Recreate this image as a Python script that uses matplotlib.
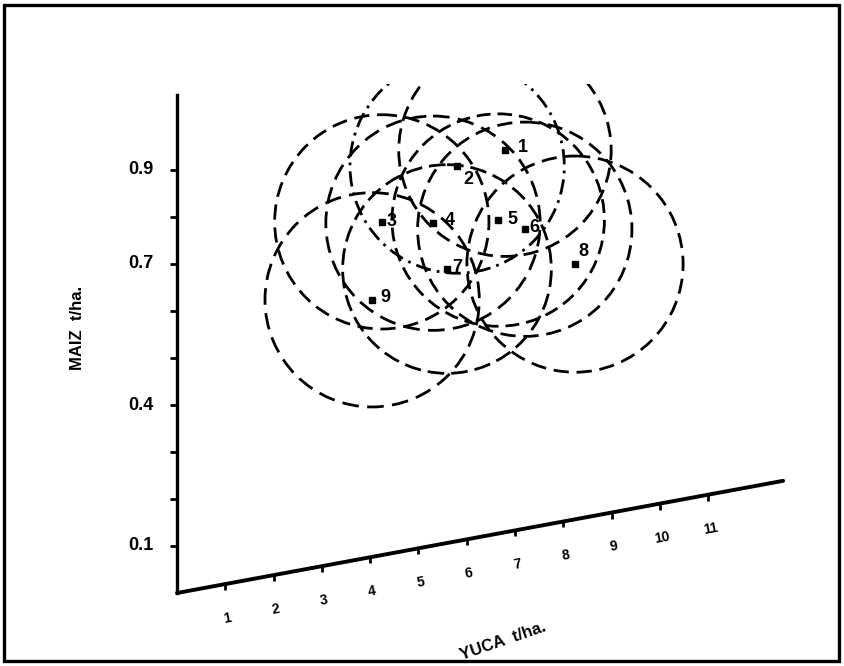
import matplotlib
matplotlib.use("Agg")
import matplotlib.pyplot as plt
import numpy as np
from matplotlib.transforms import Affine2D
from matplotlib.patches import Circle, Rectangle

# treatment means, t/ha
treat_labels = ["1", "2", "3", "4", "5", "6", "7", "8", "9"]
yuca = [6.79, 5.80, 4.24, 5.30, 6.65, 7.20, 5.59, 8.24, 4.04]
maiz = [0.813, 0.798, 0.709, 0.686, 0.667, 0.637, 0.583, 0.543, 0.547]
# radius of each circle (maiz t/ha)
radius = [0.226, 0.228, 0.228, 0.228, 0.226, 0.228, 0.222, 0.230, 0.228]

yuca_ticks = [1, 2, 3, 4, 5, 6, 7, 8, 9, 10, 11]
yuca_labels = ["1", "2", "3", "4", "5", "6", "7", "8", "9", "10", "11"]
maiz_ticks = [0.1, 0.2, 0.3, 0.4, 0.5, 0.6, 0.7, 0.8, 0.9]
maiz_labelled = [0.1, 0.4, 0.7, 0.9]
maiz_labels = ["0.1", "0.4", "0.7", "0.9"]

plt.rcParams['font.family'] = ['Liberation Sans', 'DejaVu Sans']
plt.rcParams['font.weight'] = 'bold'

fig = plt.figure(figsize=(8.45, 6.66), dpi=100)
ax = fig.add_axes([0, 0, 1, 1])
ax.set_xlim(0, 845)
ax.set_ylim(666, 0)
ax.axis('off')

# oblique axes: yuca runs up to the right, maiz straight up
skew = Affine2D.from_values(48.3, -8.94, 0, -470, 177, 593)
tr = skew + ax.transData

# frame round the whole figure
ax.add_patch(Rectangle((4, 5), 835, 656, fill=False, lw=2.4, color='black'))

# plot window: circles are cut off at its top edge
window = Rectangle((0, 84), 845, 582, transform=ax.transData)

# axis lines
ax.plot([0, 12.55], [0, 0], color='black', lw=2.8, transform=tr, solid_capstyle='round')
ax.plot([0, 0], [0, 1.06], color='black', lw=2.4, transform=tr)
ax.plot(np.zeros(len(maiz_ticks)), maiz_ticks, ls='none', marker=0, ms=5, mew=2,
        color='black', transform=tr)
ax.plot(yuca_ticks, np.zeros(len(yuca_ticks)), ls='none', marker=3, ms=4, mew=2,
        color='black', transform=tr)

for m, lab in zip(maiz_labelled, maiz_labels):
    ax.annotate(lab, (0, m), xycoords=tr, xytext=(-23, 0), textcoords='offset pixels',
                ha='right', va='center', fontsize=13)
for k, lab in zip(yuca_ticks, yuca_labels):
    ax.annotate(lab, (k, 0), xycoords=tr, xytext=(2, -34), textcoords='offset pixels',
                ha='center', va='center', fontsize=10, rotation=10)

ax.text(78, 328, "MAIZ  t/ha.", rotation=90, ha='center', va='center', fontsize=12)
ax.text(503, 641, "YUCA  t/ha.", rotation=19, ha='center', va='center', fontsize=12)

# dashed circles round each treatment
dash_styles = [(0, (5.5, 2.8)), (0, (5.5, 2.2, 1, 2.2)), (0, (5.5, 2.8)), (0, (6, 3)),
               (0, (5, 2.5)), (0, (5.5, 2.8)), (0, (6, 2.5)), (0, (5.5, 2.8)), (0, (6, 3))]
for cx, cy, r, ds in zip(yuca, maiz, radius, dash_styles):
    px, py = skew.transform((cx, cy))
    circ = Circle((0, 0), 1, fill=False, lw=2.0, ls=ds, color='black',
                  transform=Affine2D().scale(r * 470).translate(px, py) + ax.transData)
    ax.add_patch(circ)
    circ.set_clip_path(window)

# treatment points and numbers
ax.plot(yuca, maiz, ls='none', marker='s', ms=4.5, color='black', transform=tr)
offsets = [(18, 3), (11, -13), (10, 0), (17, 3), (14, 1), (10, 2), (10, 2), (8, 13), (13, 2)]
for x, y, lab, off in zip(yuca, maiz, treat_labels, offsets):
    ax.annotate(lab, (x, y), xycoords=tr, xytext=off, textcoords='offset pixels',
                ha='center', va='center', fontsize=13)

fig.savefig("out.png", dpi=100)
